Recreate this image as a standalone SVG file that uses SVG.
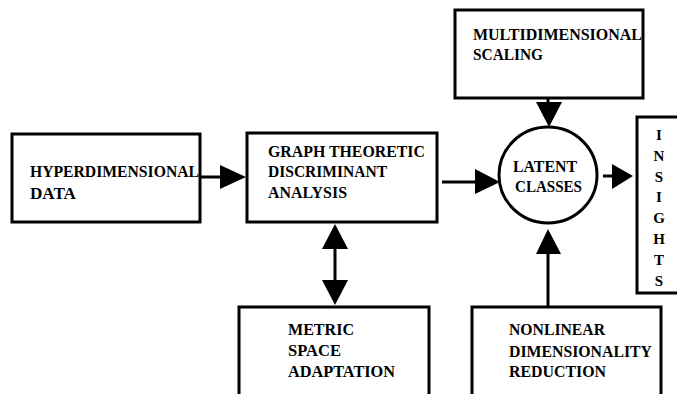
<svg xmlns="http://www.w3.org/2000/svg" width="677" height="394" viewBox="0 0 677 394">
<style>
.box{fill:#fff;stroke:#000;stroke-width:3}
text{font-weight:bold;fill:#000}
.t{font-size:16px}
.v{font-size:15px;text-anchor:middle}
.ln{stroke:#000;stroke-width:3;fill:none}
.ah{fill:#000;stroke:none}
</style>
<rect width="677" height="394" fill="#fff"/>
<g id="connectors">
<line class="ln" x1="200" y1="177" x2="222" y2="177"/>
<polygon class="ah" points="220,165 246,177 220,189"/>
<line class="ln" x1="442" y1="182" x2="477" y2="182"/>
<polygon class="ah" points="475,169 500,182 475,194"/>
<line class="ln" x1="548" y1="98" x2="548" y2="104"/>
<polygon class="ah" points="536,102 549,127 562,102"/>
<line class="ln" x1="603" y1="176" x2="614" y2="176"/>
<polygon class="ah" points="612,164 633,176 612,189"/>
<line class="ln" x1="548" y1="307" x2="548" y2="252"/>
<polygon class="ah" points="536,254 548,229 561,254"/>
<line class="ln" x1="335" y1="247" x2="335" y2="282"/>
<polygon class="ah" points="322,249 335,224 348,249"/>
<polygon class="ah" points="322,280 335,305 348,280"/>
</g>
<g font-family="Liberation Serif, Times New Roman, Times, serif">
<g id="hyperdimensional-data">
<rect class="box" x="12" y="134" width="188" height="88"/>
<text class="t" x="30" y="177" textLength="169" lengthAdjust="spacingAndGlyphs">HYPERDIMENSIONAL</text>
<text class="t" x="30" y="199" textLength="46" lengthAdjust="spacingAndGlyphs">DATA</text>
</g>
<g id="graph-theoretic">
<rect class="box" x="247" y="133" width="190" height="89"/>
<text class="t" x="268" y="157" textLength="157" lengthAdjust="spacingAndGlyphs">GRAPH THEORETIC</text>
<text class="t" x="268" y="177" textLength="119" lengthAdjust="spacingAndGlyphs">DISCRIMINANT</text>
<text class="t" x="268" y="198" textLength="79" lengthAdjust="spacingAndGlyphs">ANALYSIS</text>
</g>
<g id="multidimensional-scaling">
<rect class="box" x="455" y="10" width="188" height="88"/>
<text class="t" x="473" y="40" textLength="169" lengthAdjust="spacingAndGlyphs">MULTIDIMENSIONAL</text>
<text class="t" x="473" y="60" textLength="70" lengthAdjust="spacingAndGlyphs">SCALING</text>
</g>
<g id="latent-classes">
<ellipse class="box" cx="548" cy="175" rx="49" ry="48"/>
<text class="t" x="513" y="172" textLength="64" lengthAdjust="spacingAndGlyphs">LATENT</text>
<text class="t" x="515" y="192" textLength="67" lengthAdjust="spacingAndGlyphs">CLASSES</text>
</g>
<g id="insights">
<rect class="box" x="637" y="117" width="50" height="176"/>
<text class="v" x="659" y="140">I</text>
<text class="v" x="659" y="161">N</text>
<text class="v" x="659" y="182">S</text>
<text class="v" x="659" y="202">I</text>
<text class="v" x="659" y="223">G</text>
<text class="v" x="659" y="244">H</text>
<text class="v" x="659" y="265">T</text>
<text class="v" x="659" y="286">S</text>
</g>
<g id="metric-space-adaptation">
<rect class="box" x="239" y="307" width="190" height="92"/>
<text class="t" x="288" y="335" textLength="66" lengthAdjust="spacingAndGlyphs">METRIC</text>
<text class="t" x="288" y="356" textLength="53" lengthAdjust="spacingAndGlyphs">SPACE</text>
<text class="t" x="288" y="377" textLength="107" lengthAdjust="spacingAndGlyphs">ADAPTATION</text>
</g>
<g id="nonlinear-dimensionality-reduction">
<rect class="box" x="472" y="307" width="189" height="92"/>
<text class="t" x="509" y="335" textLength="96" lengthAdjust="spacingAndGlyphs">NONLINEAR</text>
<text class="t" x="509" y="357" textLength="143" lengthAdjust="spacingAndGlyphs">DIMENSIONALITY</text>
<text class="t" x="509" y="377" textLength="97" lengthAdjust="spacingAndGlyphs">REDUCTION</text>
</g>
</g>
</svg>
